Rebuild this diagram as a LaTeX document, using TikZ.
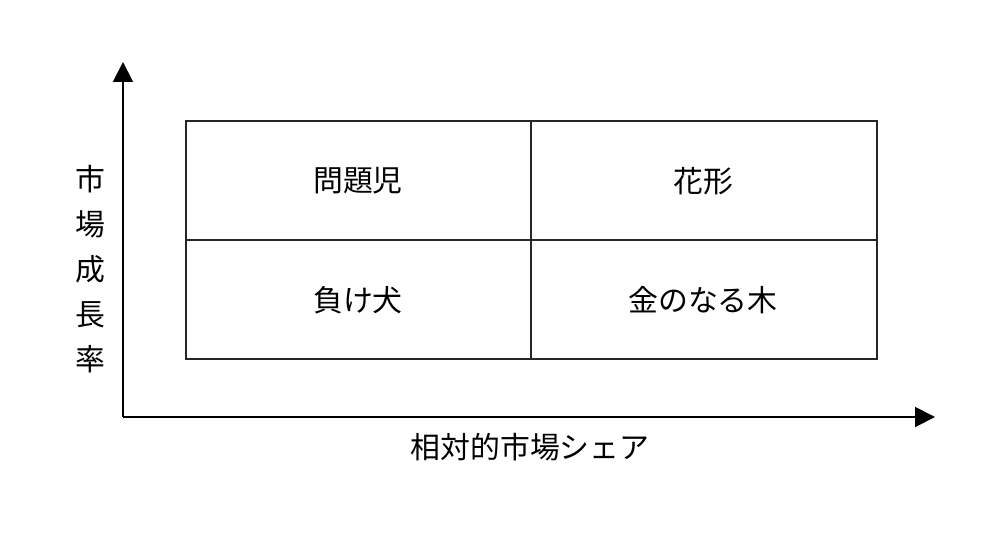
\documentclass[tikz,border=0pt]{standalone}
\usepackage{fontspec}
\newfontfamily\cjk{Noto Sans CJK JP}
\usetikzlibrary{arrows.meta}
\begin{document}
\begin{tikzpicture}[x=0.02cm,y=-0.02cm,
  lbl/.style={font=\cjk\fontsize{17}{20}\selectfont, inner sep=0pt},
  box/.style={draw=black!85, line width=1.1pt},
  axis/.style={draw=black, line width=1.1pt, -{Triangle[length=0.4cm,width=0.4cm]}}]
\useasboundingbox (0,0) rectangle (1000,540);
\coordinate (o) at (123,417);
\coordinate (ytip) at (123,62);
\coordinate (xtip) at (935,417);
\draw[axis] (o) -- (ytip);
\draw[axis] (o) -- (xtip);
\node[box, minimum width=13.82cm, minimum height=4.76cm, anchor=north west, inner sep=0pt] (grid) at (185,120) {};
\draw[box] (grid.north) -- (grid.south);
\draw[box] (grid.west) -- (grid.east);
\node[lbl] (q1) at (358,181) {問題児};
\node[lbl] (q2) at (703,181) {花形};
\node[lbl] (q3) at (358,300) {負け犬};
\node[lbl] (q4) at (703,300) {金のなる木};
\node[lbl, align=center, font=\cjk\fontsize{17}{25.6}\selectfont] (ylab) at (90,269) {市\\場\\成\\長\\率};
\node[lbl] (xlab) at (530,447) {相対的市場シェア};
\end{tikzpicture}
\end{document}
